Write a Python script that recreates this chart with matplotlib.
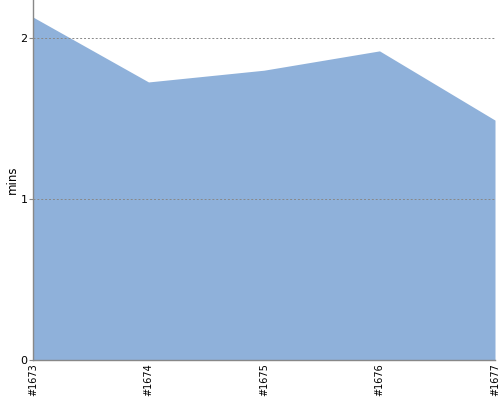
import numpy as np
import matplotlib
matplotlib.use("Agg")
import matplotlib.pyplot as plt

builds = ["#1673", "#1674", "#1675", "#1676", "#1677"]
mins = [2.13, 1.727, 1.80, 1.92, 1.49]

fig = plt.figure(figsize=(5, 4), dpi=100)
ax = fig.add_axes([0.066, 0.1, 0.924, 0.9])

x = np.arange(len(builds))
ax.fill_between(x, mins, 0, color="#8fb1da", linewidth=0, zorder=1)

ax.set_xlim(0, len(builds) - 1)
ax.set_ylim(0, 2.236)
ax.set_yticks([0, 1, 2])
ax.set_yticklabels(["0", "1", "2"], fontsize=8)
ax.set_xticks(x)
ax.set_xticklabels(builds, rotation=90, fontsize=7)
ax.set_ylabel("mins", fontsize=8.5, labelpad=1)

ax.grid(axis="y", linestyle=(0, (2, 2)), color="#888888", linewidth=0.7, zorder=2)
ax.set_axisbelow(False)
for s in ["top", "right"]:
    ax.spines[s].set_visible(False)
for s in ["left", "bottom"]:
    ax.spines[s].set_color("#888888")
    ax.spines[s].set_linewidth(1)
ax.tick_params(axis="y", length=3, color="#888888", pad=1)
ax.tick_params(axis="x", length=0, pad=2)

fig.savefig("out.png", dpi=100)
